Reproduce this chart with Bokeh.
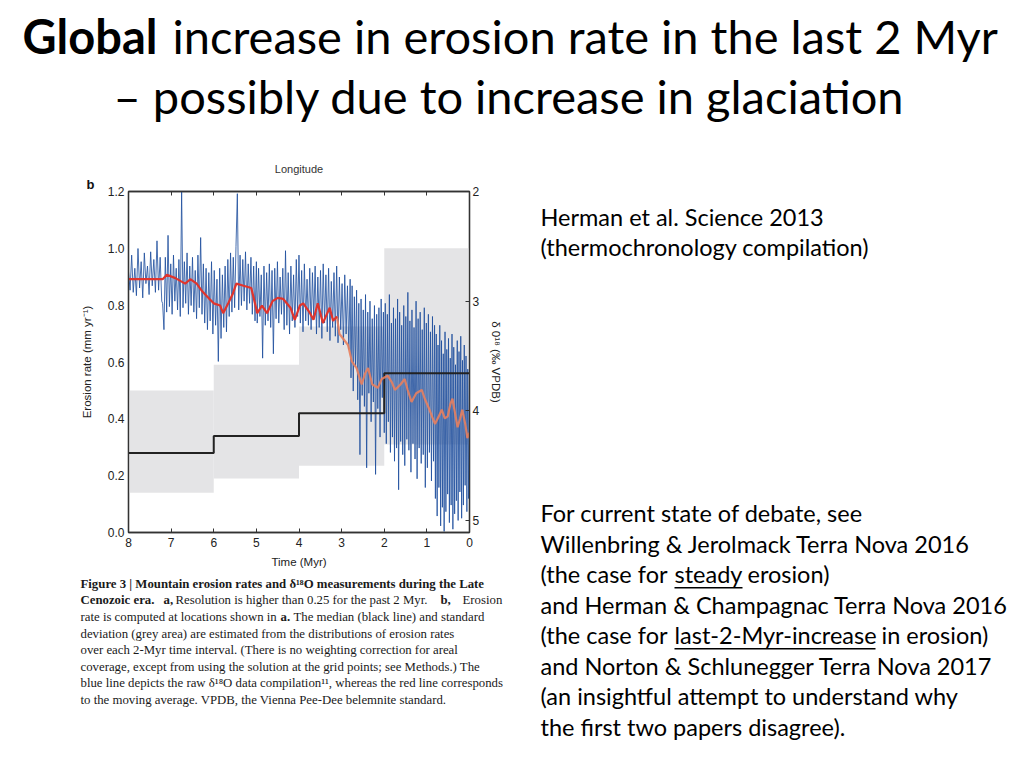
import numpy as np
from bokeh.plotting import figure
from bokeh.layouts import column, row
from bokeh.models import (Range1d, LinearAxis, FixedTicker, PrintfTickFormatter,
                          Label, BoxAnnotation, Title)
from bokeh.embed import file_html
from bokeh.resources import INLINE

# ---------------- data ----------------
# median erosion rate per 2-Myr interval (mm/yr)
bin_left = [8, 6, 4, 2]
bin_right = [6, 4, 2, 0]
median_rate = [0.28, 0.34, 0.42, 0.56]
sd_low = [0.14, 0.19, 0.235, 0.31]
sd_high = [0.50, 0.59, 0.725, 1.00]

# raw d18O compilation (permil VPDB)
raw_seg_bounds = [(8.0, 7.22), (7.20, 5.00), (4.98, 2.80), (2.78, 2.02), (2.00, 0.82), (0.80, 0.0)]
raw_seg_values = [
    [2.73, 2.90, 2.58, 2.92, 2.70, 2.95, 2.52, 2.88, 2.64, 2.97, 2.56, 2.84, 2.68, 2.94, 2.55, 2.86,
     2.62, 2.92, 2.45, 2.90, 2.60, 3.00],
    [3.02, 3.26, 2.60, 3.10, 2.40, 3.05, 2.66, 3.12, 2.58, 3.00, 2.70, 3.08, 2.62, 3.14, 2.00, 3.06,
     2.64, 3.02, 2.56, 3.12, 2.68, 3.04, 2.60, 3.10, 2.72, 3.16, 2.58, 3.06, 2.42, 3.12, 2.66, 3.20,
     2.70, 3.26, 2.74, 3.18, 2.64, 3.30, 2.72, 3.22, 2.80, 3.55, 2.70, 3.34, 2.76, 3.24, 2.68, 3.28,
     2.62, 3.14, 2.56, 3.10, 2.60, 3.06, 2.50, 2.02, 3.08, 2.58, 3.04, 2.62, 3.00, 2.55, 3.08, 2.66,
     3.02, 2.60, 3.12, 2.68, 3.18, 2.64],
    [3.20, 2.70, 3.14, 2.76, 3.52, 2.68, 3.22, 2.74, 3.18, 2.66, 3.24, 2.72, 3.48, 2.70, 3.16, 2.64,
     3.20, 2.78, 3.12, 2.70, 3.26, 2.54, 3.22, 2.74, 3.30, 2.68, 3.18, 2.76, 3.24, 2.62, 3.14, 2.58,
     3.20, 2.72, 3.28, 2.66, 3.18, 2.80, 3.22, 2.70, 3.26, 2.74, 3.16, 2.68, 3.30, 2.78, 3.24, 2.72,
     3.34, 2.66, 3.20, 2.76, 3.28, 2.70, 3.36, 2.82, 3.24, 2.74, 3.32, 2.68, 3.38, 2.78, 3.26, 2.84,
     3.40, 2.76, 3.30, 2.86, 3.44, 2.80],
    [3.70, 2.86, 3.82, 2.96, 3.60, 2.90, 3.90, 3.02, 4.40, 2.98, 3.86, 3.08, 3.96, 2.94, 4.52, 3.10,
     3.84, 3.00, 4.10, 3.16, 3.92, 3.04, 4.58, 3.12, 3.98, 3.06, 4.24, 2.98, 3.88, 3.10],
    [4.20, 3.02, 4.30, 3.12, 4.10, 2.94, 4.38, 3.20, 4.24, 3.06, 4.46, 3.16, 4.34, 2.98, 4.72, 3.10,
     4.28, 3.22, 4.40, 3.04, 4.50, 3.14, 4.26, 2.92, 4.36, 3.18, 4.56, 3.08, 4.30, 3.24, 4.44, 3.00,
     4.62, 3.16, 4.34, 3.10, 4.48, 3.26, 4.40, 3.06, 4.70, 3.20, 4.52, 3.12, 4.38, 3.28, 4.64, 3.14,
     4.46, 3.22],
    [4.80, 3.30, 4.96, 3.40, 4.70, 3.22, 5.05, 3.36, 4.88, 3.48, 5.10, 3.28, 4.92, 3.44, 4.76, 3.34,
     5.02, 3.52, 4.86, 3.30, 5.08, 3.42, 4.94, 3.58, 4.82, 3.36, 5.00, 3.46, 4.74, 3.32, 4.98, 3.54,
     4.86, 3.40, 4.68, 3.50, 4.92, 3.62, 4.80, 3.70],
]

# moving average of d18O (red line, then the lighter part under the raw data)
ma_age_red = [8.0, 7.2, 7.1, 6.9, 6.67, 6.55, 6.4, 6.27, 6.1, 6.0, 5.85, 5.78, 5.66, 5.55, 5.47, 5.3,
              5.12, 5.02, 4.98, 4.87, 4.75, 4.62, 4.5, 4.37, 4.2, 4.1, 3.98, 3.9, 3.74, 3.66, 3.56,
              3.44, 3.28, 3.2, 3.11]
ma_d18o_red = [2.80, 2.80, 2.76, 2.79, 2.84, 2.80, 2.84, 2.91, 2.98, 3.02, 3.04, 3.11, 3.02, 2.93, 2.84,
               2.86, 2.88, 3.04, 3.11, 3.04, 3.11, 3.00, 2.97, 2.98, 3.06, 3.17, 3.04, 3.02, 3.11, 3.17,
               3.02, 3.20, 3.06, 3.18, 3.14]
ma_age_late = [3.11, 3.05, 2.95, 2.85, 2.76, 2.65, 2.53, 2.45, 2.38, 2.28, 2.15, 2.06, 1.92, 1.82, 1.75,
               1.62, 1.52, 1.45, 1.36, 1.25, 1.12, 1.05, 0.96, 0.88, 0.81, 0.72, 0.65, 0.58, 0.51, 0.45,
               0.4, 0.34, 0.28, 0.22, 0.17, 0.1, 0.05, 0.0]
ma_d18o_late = [3.14, 3.30, 3.35, 3.40, 3.55, 3.61, 3.76, 3.66, 3.61, 3.76, 3.79, 3.71, 3.68, 3.74, 3.81,
                3.76, 3.71, 3.81, 3.92, 3.84, 3.81, 3.89, 3.97, 4.05, 4.12, 4.05, 3.99, 4.07, 4.05, 3.94,
                3.89, 4.02, 4.15, 4.07, 3.99, 4.12, 4.25, 4.20]

rate_ticks = [0.0, 0.2, 0.4, 0.6, 0.8, 1.0, 1.2]
time_ticks = [0, 1, 2, 3, 4, 5, 6, 7, 8]
d18o_ticks = [2, 3, 4, 5]

raw_age = np.concatenate([np.linspace(a, b, len(v)) for (a, b), v in zip(raw_seg_bounds, raw_seg_values)])
raw_d18o = np.concatenate([np.array(v) for v in raw_seg_values])

# ---------------- fonts ----------------
AX = "Liberation Sans"
SLIDE = "Lato"
SERIF = "Liberation Serif"
BL_SHIFT = 0.4   # renderer draws 'alphabetic' text about 0.4 em lower than asked

# ---------------- page grid (page px) ----------------
PAGE_W, PAGE_H = 1020, 766
TOP_H = 150                 # title strip
LEFT_W = 520                # chart + caption column
CHART_H = 425               # chart figure height
CAP_H = PAGE_H - TOP_H - CHART_H
RIGHT_W = PAGE_W - LEFT_W
RIGHT_H = PAGE_H - TOP_H


def no_align(f):
    if "frame_align" in f.properties():
        f.frame_align = False


def blank_fig(w, h):
    f = figure(width=w, height=h, x_range=Range1d(0, w), y_range=Range1d(0, h),
               output_backend="svg", toolbar_location=None,
               min_border=0, min_border_left=0, min_border_right=0,
               min_border_top=0, min_border_bottom=0,
               x_axis_location=None, y_axis_location=None)
    f.grid.visible = False
    f.outline_line_color = None
    f.background_fill_color = "white"
    f.border_fill_color = "white"
    no_align(f)
    return f


def lab(f, ox, oy, h, text, px, py, size, font=SLIDE, style="normal", color="#000000",
        align="left"):
    """Put text with its baseline at page position (px, py); (ox, oy) = page origin of f, h = its height."""
    yb = (oy + h) - py + BL_SHIFT * size
    f.add_layout(Label(x=px - ox, y=yb, x_units="screen", y_units="screen", text=text,
                       text_font=font, text_font_size=f"{size}px", text_font_style=style,
                       text_color=color, text_align=align, text_baseline="alphabetic"))


# ---------------- title strip ----------------
tf = blank_fig(PAGE_W, TOP_H)
lab(tf, 0, 0, TOP_H, "Global", 22, 54, 47, style="bold")
lab(tf, 0, 0, TOP_H, "increase in erosion rate in the last 2 Myr", 172, 54, 47)
lab(tf, 0, 0, TOP_H, "– possibly due to increase in glaciation", 113, 114, 47)

# ---------------- chart ----------------
FRAME_L, FRAME_R, FRAME_T, FRAME_B = 128, 469, 191, 532
p = figure(width=LEFT_W, height=CHART_H, x_range=Range1d(8, 0), y_range=Range1d(0, 1.2),
           output_backend="svg", toolbar_location=None,
           min_border_left=FRAME_L, min_border_right=LEFT_W - FRAME_R,
           min_border_top=FRAME_T - TOP_H, min_border_bottom=TOP_H + CHART_H - FRAME_B,
           x_axis_location=None, y_axis_location=None)
no_align(p)
p.extra_y_ranges = {"d18o": Range1d(start=5.11, end=2.0)}
p.grid.visible = False
p.outline_line_color = "#333333"
p.outline_line_width = 1.3
p.background_fill_color = "white"
p.border_fill_color = "white"


def style_axis(ax):
    ax.axis_line_color = "#333333"
    ax.axis_line_width = 1.3
    ax.major_tick_line_color = "#333333"
    ax.minor_tick_line_color = None
    ax.major_label_text_font = AX
    ax.major_label_text_font_size = "12px"
    ax.major_label_text_color = "#222222"
    ax.axis_label_text_font = AX
    ax.axis_label_text_font_size = "11.5px"
    ax.axis_label_text_font_style = "normal"
    ax.axis_label_text_color = "#222222"


xb = LinearAxis(ticker=FixedTicker(ticks=time_ticks), axis_label="Time (Myr)")
style_axis(xb)
xb.major_tick_in = 4
xb.major_tick_out = 0
xb.major_label_standoff = 5
xb.axis_label_standoff = 6
p.add_layout(xb, "below")

xt = LinearAxis(ticker=FixedTicker(ticks=time_ticks),
                major_label_overrides={t: "" for t in time_ticks})
style_axis(xt)
xt.major_tick_in = 4
xt.major_tick_out = 0
xt.major_label_standoff = 0
xt.major_label_text_font_size = "1px"
p.add_layout(xt, "above")

yl = LinearAxis(ticker=FixedTicker(ticks=rate_ticks), formatter=PrintfTickFormatter(format="%.1f"),
                axis_label="Erosion rate (mm yr⁻¹)")
style_axis(yl)
yl.major_tick_in = 0
yl.major_tick_out = 0
yl.major_label_standoff = 4
yl.axis_label_standoff = 12
p.add_layout(yl, "left")

yr = LinearAxis(y_range_name="d18o", ticker=FixedTicker(ticks=d18o_ticks),
                axis_label="δ 0¹⁸ (‰ VPDB)")
style_axis(yr)
yr.major_tick_in = 4
yr.major_tick_out = 0
yr.major_label_standoff = 3
yr.axis_label_standoff = 8
p.add_layout(yr, "right")

p.add_layout(Title(text="b", align="left", offset=-42, standoff=0, text_font=AX,
                   text_font_size="13px", text_font_style="bold", text_color="#111111"), "above")
p.add_layout(Title(text="Longitude", align="center", offset=4, standoff=0, text_font=AX,
                   text_font_size="11px", text_font_style="normal", text_color="#333333"), "above")

# grey standard-deviation bands
p.quad(left=bin_left, right=bin_right, bottom=sd_low, top=sd_high,
       fill_color="#E4E4E6", line_color=None)

# raw d18O
p.line(raw_age, raw_d18o, y_range_name="d18o", line_color="#1F4E9E", line_alpha=0.82, line_width=1.0)

# median step
step_x = bin_left + [bin_right[-1]]
step_y = median_rate + [median_rate[-1]]
p.step(step_x, step_y, mode="after", line_color="#222222", line_width=2)

# moving average
p.line(ma_age_late, ma_d18o_late, y_range_name="d18o", line_color="#E8805E", line_width=2.2, line_alpha=0.9)
p.line(ma_age_red, ma_d18o_red, y_range_name="d18o", line_color="#E0342C", line_width=2.2)

# ---------------- caption ----------------
cf = blank_fig(LEFT_W, CAP_H)
CAP_OY = TOP_H + CHART_H
cap_base = 588.5
cap_step = 16.6
CS = 12.8
caption = [
    [("Figure 3 | Mountain erosion rates and δ¹⁸O measurements during the Late", 80, "bold")],
    [("Cenozoic era.", 80, "bold"), ("a,", 163, "bold"),
     ("Resolution is higher than 0.25 for the past 2 Myr.", 175, "normal"),
     ("b,", 440, "bold"), ("Erosion", 462, "normal")],
    [("rate is computed at locations shown in", 80, "normal"), ("a.", 280, "bold"),
     ("The median (black line) and standard", 293, "normal")],
    [("deviation (grey area) are estimated from the distributions of erosion rates", 80, "normal")],
    [("over each 2-Myr time interval. (There is no weighting correction for areal", 80, "normal")],
    [("coverage, except from using the solution at the grid points; see Methods.) The", 80, "normal")],
    [("blue line depicts the raw δ¹⁸O data compilation¹¹, whereas the red line corresponds", 80, "normal")],
    [("to the moving average. VPDB, the Vienna Pee-Dee belemnite standard.", 80, "normal")],
]
for i, runs in enumerate(caption):
    for txt, x, st in runs:
        lab(cf, 0, CAP_OY, CAP_H, txt, x, cap_base + i * cap_step, CS, font=SERIF, style=st,
            color="#1a1a1a")

# ---------------- right-hand text ----------------
rf = blank_fig(RIGHT_W, RIGHT_H)
R_OX, R_OY = LEFT_W, TOP_H
RS = 23.5
lab(rf, R_OX, R_OY, RIGHT_H, "Herman et al. Science 2013", 540, 225.5, RS)
lab(rf, R_OX, R_OY, RIGHT_H, "(thermochronology compilation)", 540, 256, RS)

base = 522
step = 30.5
lines = [
    [("For current state of debate, see", 540)],
    [("Willenbring & Jerolmack Terra Nova 2016", 540)],
    [("(the case for", 540), ("steady", 674), ("erosion)", 747)],
    [("and Herman & Champagnac Terra Nova 2016", 540)],
    [("(the case for", 540), ("last-2-Myr-increase", 674), ("in erosion)", 881)],
    [("and Norton & Schlunegger Terra Nova 2017", 540)],
    [("(an insightful attempt to understand why", 540)],
    [("the first two papers disagree).", 540)],
]
for i, runs in enumerate(lines):
    for txt, x in runs:
        lab(rf, R_OX, R_OY, RIGHT_H, txt, x, base + i * step, RS)


def underline(x0, x1, py):
    yb = (R_OY + RIGHT_H) - py
    rf.add_layout(BoxAnnotation(left=x0 - R_OX, right=x1 - R_OX, bottom=yb - 1.6, top=yb,
                                left_units="screen", right_units="screen",
                                bottom_units="screen", top_units="screen",
                                fill_color="#000000", fill_alpha=1.0, line_color=None))


underline(674, 742, base + 2 * step + 3.5)
underline(674, 875, base + 4 * step + 3.5)

layout = column(tf, row(column(p, cf, spacing=0), rf, spacing=0), spacing=0)
open("out.html", "w").write(file_html(layout, INLINE))
